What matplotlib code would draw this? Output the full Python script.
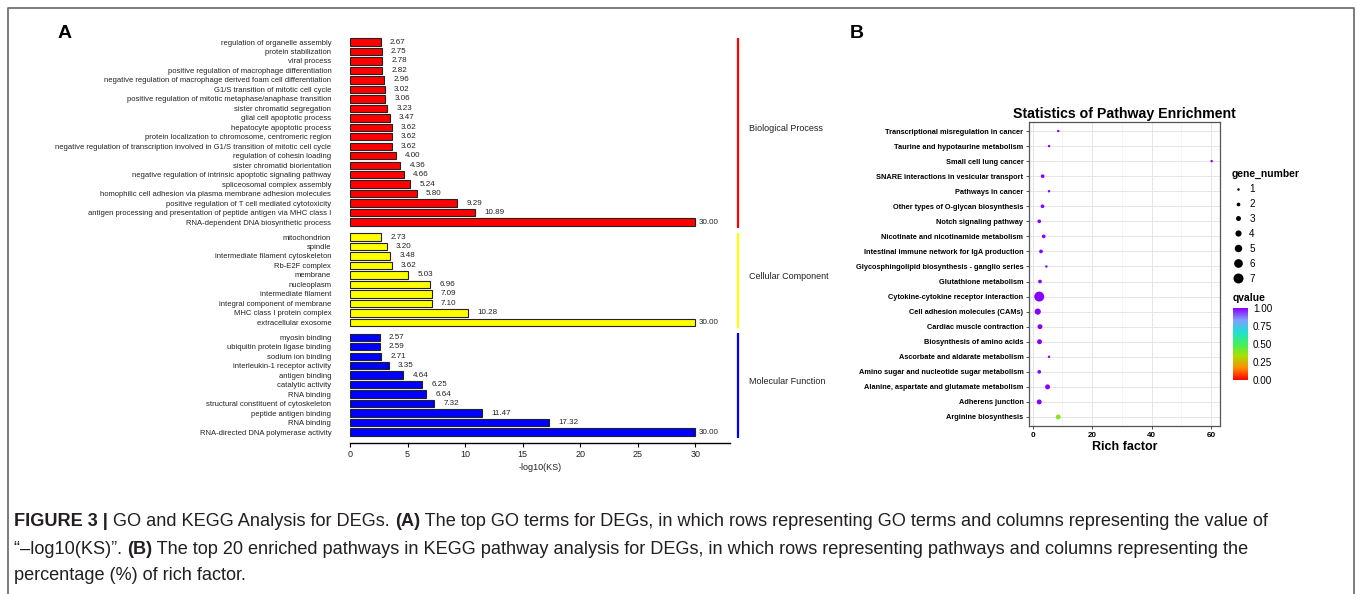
import matplotlib
matplotlib.use("Agg")
import matplotlib.pyplot as plt
import numpy as np
from matplotlib.colors import LinearSegmentedColormap
from matplotlib.lines import Line2D

plt.rcParams["font.family"] = ["Liberation Sans", "DejaVu Sans"]

# ---- panel A data (GO terms, top to bottom) ----
bp_terms = [
    "regulation of organelle assembly",
    "protein stabilization",
    "viral process",
    "positive regulation of macrophage differentiation",
    "negative regulation of macrophage derived foam cell differentiation",
    "G1/S transition of mitotic cell cycle",
    "positive regulation of mitotic metaphase/anaphase transition",
    "sister chromatid segregation",
    "glial cell apoptotic process",
    "hepatocyte apoptotic process",
    "protein localization to chromosome, centromeric region",
    "negative regulation of transcription involved in G1/S transition of mitotic cell cycle",
    "regulation of cohesin loading",
    "sister chromatid biorientation",
    "negative regulation of intrinsic apoptotic signaling pathway",
    "spliceosomal complex assembly",
    "homophilic cell adhesion via plasma membrane adhesion molecules",
    "positive regulation of T cell mediated cytotoxicity",
    "antigen processing and presentation of peptide antigen via MHC class I",
    "RNA-dependent DNA biosynthetic process",
]
bp_values = [2.67, 2.75, 2.78, 2.82, 2.96, 3.02, 3.06, 3.23, 3.47, 3.62,
             3.62, 3.62, 4.00, 4.36, 4.66, 5.24, 5.80, 9.29, 10.89, 30.00]

cc_terms = [
    "mitochondrion",
    "spindle",
    "intermediate filament cytoskeleton",
    "Rb-E2F complex",
    "membrane",
    "nucleoplasm",
    "intermediate filament",
    "integral component of membrane",
    "MHC class I protein complex",
    "extracellular exosome",
]
cc_values = [2.73, 3.20, 3.48, 3.62, 5.03, 6.96, 7.09, 7.10, 10.28, 30.00]

mf_terms = [
    "myosin binding",
    "ubiquitin protein ligase binding",
    "sodium ion binding",
    "interleukin-1 receptor activity",
    "antigen binding",
    "catalytic activity",
    "RNA binding",
    "structural constituent of cytoskeleton",
    "peptide antigen binding",
    "RNA binding",
    "RNA-directed DNA polymerase activity",
]
mf_values = [2.57, 2.59, 2.71, 3.35, 4.64, 6.25, 6.64, 7.32, 11.47, 17.32, 30.00]

group_names = ["Biological Process", "Cellular Component", "Molecular Function"]
group_colors = ["#FF0000", "#FFFF00", "#0000FF"]

# ---- panel B data (KEGG pathways, top to bottom) ----
pathways = [
    "Transcriptional misregulation in cancer",
    "Taurine and hypotaurine metabolism",
    "Small cell lung cancer",
    "SNARE interactions in vesicular transport",
    "Pathways in cancer",
    "Other types of O-glycan biosynthesis",
    "Notch signaling pathway",
    "Nicotinate and nicotinamide metabolism",
    "Intestinal immune network for IgA production",
    "Glycosphingolipid biosynthesis - ganglio series",
    "Glutathione metabolism",
    "Cytokine-cytokine receptor interaction",
    "Cell adhesion molecules (CAMs)",
    "Cardiac muscle contraction",
    "Biosynthesis of amino acids",
    "Ascorbate and aldarate metabolism",
    "Amino sugar and nucleotide sugar metabolism",
    "Alanine, aspartate and glutamate metabolism",
    "Adherens junction",
    "Arginine biosynthesis",
]
rich_factor = [8.6, 5.5, 60.2, 3.35, 5.5, 3.3, 2.2, 3.7, 2.8, 4.6,
               2.45, 2.2, 1.7, 2.45, 2.3, 5.5, 2.2, 5.0, 2.2, 8.6]
gene_number = [1, 1, 1, 2, 1, 2, 2, 2, 2, 1, 2, 7, 4, 3, 3, 1, 2, 3, 3, 3]
qvalue = [1.0, 1.0, 1.0, 1.0, 1.0, 1.0, 1.0, 1.0, 1.0, 1.0,
          1.0, 1.0, 1.0, 1.0, 1.0, 1.0, 1.0, 1.0, 1.0, 0.38]
size_levels = [1, 2, 3, 4, 5, 6, 7]

W, H = 1357, 594
fig = plt.figure(figsize=(W / 100, H / 100), dpi=100)


def fx(px):
    return px / W


def fy(px):
    return 1 - px / H


# ---------------- panel A ----------------
gap = 0.58
groups = [(bp_terms, bp_values), (cc_terms, cc_values), (mf_terms, mf_values)]
positions, labels, values, colors, spans = [], [], [], [], []
start = 0.0
for (terms, vals), col in zip(groups, group_colors):
    pos = start + np.arange(len(terms))
    positions.extend(pos)
    labels.extend(terms)
    values.extend(vals)
    colors.extend([col] * len(terms))
    spans.append((pos[0], pos[-1]))
    start = pos[-1] + 1 + gap

axA = fig.add_axes([fx(350), fy(443), fx(730) - fx(350), fy(30) - fy(443)])
axA.barh(positions, values, height=0.78, color=colors, edgecolor="#222222", linewidth=0.8)
for p, v in zip(positions, values):
    off = 0.8 if v < 30 else 0.3
    axA.text(v + off, p, f"{v:.2f}", fontsize=5.8, va="center", ha="left", color="#222222")

axA.set_xlim(0, 33)
axA.set_ylim(positions[-1] + 1.16, -1.27)
axA.set_yticks(positions, labels)
axA.set_xticks(np.arange(0, 31, 5))
axA.tick_params(axis="y", left=False, pad=10, labelsize=5.5, labelcolor="#222222")
axA.tick_params(axis="x", length=3, width=0.8, labelsize=6.5, pad=2, labelcolor="#222222")
for s in ["top", "right", "left"]:
    axA.spines[s].set_visible(False)
axA.spines["bottom"].set_linewidth(1.0)
axA.set_xlabel("-log10(KS)", fontsize=6.5, labelpad=3, color="#222222")

xb = (739 - 350) / ((696 - 350) / 30)
xt = (750 - 350) / ((696 - 350) / 30)
for (a, b), name, col in zip(spans, group_names, group_colors):
    axA.plot([xb, xb], [a - 0.45, b + 0.6], color=col, lw=1.6, clip_on=False,
             solid_capstyle="butt")
    axA.text(xt, (a + b) / 2 - 0.35, name, fontsize=6.5, va="center", ha="left",
             color="#222222", clip_on=False)

# ---------------- panel B ----------------
qcmap = LinearSegmentedColormap.from_list(
    "qv", ["#FF0000", "#FF8C00", "#A8E000", "#40F060", "#20E0D0", "#7FA0FF", "#8800FF"])


def dot_size(n):
    d_px = 1.2 + np.asarray(n) * 1.25
    return (d_px * 0.72) ** 2


axB = fig.add_axes([fx(1029), fy(426), fx(1220) - fx(1029), fy(122) - fy(426)])
ypos = np.arange(len(pathways))
axB.scatter(rich_factor, ypos, s=dot_size(gene_number), c=qvalue, cmap=qcmap,
            vmin=0, vmax=1, linewidths=0, zorder=3)
axB.set_xlim(-1.24, 63.0)
axB.set_ylim(len(pathways) - 1 + 0.6, -0.6)
axB.set_yticks(ypos, pathways)
axB.set_xticks([0, 20, 40, 60])
axB.set_xticks([10, 30, 50], minor=True)
axB.grid(True, which="major", color="#E6E6E6", lw=0.7, zorder=0)
axB.grid(True, which="minor", axis="x", color="#F2F2F2", lw=0.5, zorder=0)
axB.set_axisbelow(True)
axB.tick_params(axis="both", which="major", length=2.5, width=0.6, color="#333333")
axB.tick_params(axis="x", which="minor", length=0)
for lab in axB.get_yticklabels():
    lab.set_fontweight("bold")
    lab.set_fontsize(5.3)
for lab in axB.get_xticklabels():
    lab.set_fontweight("bold")
    lab.set_fontsize(5.8)
axB.tick_params(axis="y", pad=1.5)
axB.tick_params(axis="x", pad=1.5)
for s in axB.spines.values():
    s.set_color("#555555")
    s.set_linewidth(0.9)
axB.set_xlabel("Rich factor", fontsize=9, fontweight="bold", labelpad=1.5)
axB.set_title("Statistics of Pathway Enrichment", fontsize=10.2, fontweight="bold", pad=3)

handles = [Line2D([], [], marker="o", ls="", color="black", markeredgewidth=0,
                  markersize=np.sqrt(dot_size(n))) for n in size_levels]
leg = axB.legend(handles, [str(n) for n in size_levels], title="gene_number",
                 loc="upper left", bbox_to_anchor=(fx(1232), fy(169)),
                 bbox_transform=fig.transFigure, frameon=False, fontsize=7.1,
                 title_fontsize=7.4, labelspacing=0.5, handletextpad=0.45,
                 handlelength=1.3, borderpad=0, borderaxespad=0, alignment="left")
leg.get_title().set_fontweight("bold")

cax = fig.add_axes([fx(1233), fy(380), 15 / W, 72 / H])
sm = plt.cm.ScalarMappable(cmap=qcmap, norm=plt.Normalize(0, 1))
cb = fig.colorbar(sm, cax=cax, ticks=[0, 0.25, 0.5, 0.75, 1.0])
cb.ax.set_yticklabels(["0.00", "0.25", "0.50", "0.75", "1.00"])
cb.ax.tick_params(labelsize=7.1, length=2, color="white", pad=1.5)
cb.outline.set_visible(False)
fig.text(fx(1233), fy(298), "qvalue", fontsize=7.4, fontweight="bold", va="center", ha="left")

# panel letters
fig.text(fx(65), fy(34), "A", fontsize=14, fontweight="bold", ha="center", va="center")
fig.text(fx(857), fy(34), "B", fontsize=14, fontweight="bold", ha="center", va="center")

# frame around figure panels
fig.add_artist(Line2D([fx(8), fx(8), fx(1354), fx(1354)], [0, fy(8), fy(8), 0],
                      transform=fig.transFigure, color="#666666", lw=1.2))

# caption, bold and regular pieces chained along each line
cap_ax = fig.add_axes([0, 0, 1, 1])
cap_ax.axis("off")
caption_lines = [
    [("FIGURE 3 | ", "bold"), ("GO and KEGG Analysis for DEGs. ", "normal"), ("(A)", "bold"),
     (" The top GO terms for DEGs, in which rows representing GO terms and columns representing the value of", "normal")],
    [("\u201c\u2013log10(KS)\u201d. ", "normal"), ("(B)", "bold"),
     (" The top 20 enriched pathways in KEGG pathway analysis for DEGs, in which rows representing pathways and columns representing the", "normal")],
    [("percentage (%) of rich factor.", "normal")],
]
line_y = [522, 549, 576]
for pieces, ly in zip(caption_lines, line_y):
    prev = None
    for txt, wt in pieces:
        if prev is None:
            prev = cap_ax.annotate(txt, xy=(fx(14), fy(ly)), xycoords="figure fraction",
                                   fontsize=13.1, fontweight=wt, va="center", ha="left",
                                   color="#231F20")
        else:
            prev = cap_ax.annotate(txt, xy=(1, 0), xycoords=prev, fontsize=13.1,
                                   fontweight=wt, va="bottom", ha="left", color="#231F20")

fig.savefig("out.png", dpi=100)
